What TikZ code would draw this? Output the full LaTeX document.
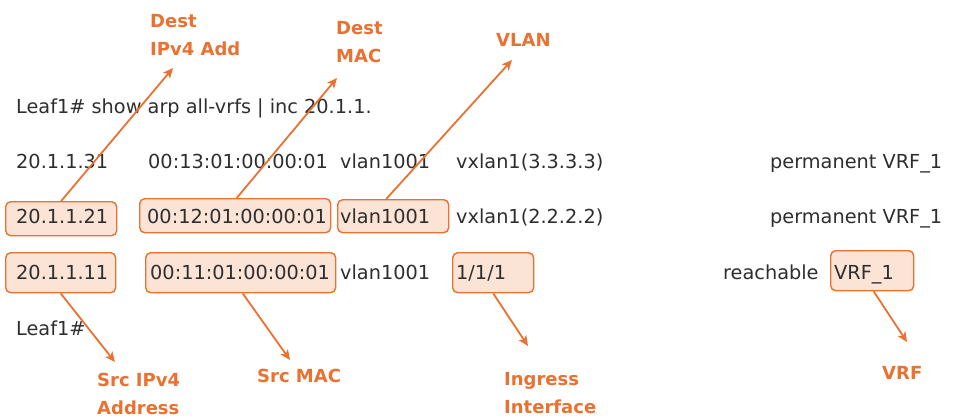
\documentclass[tikz,border=0pt]{standalone}
\usepackage{fontspec}
\setmainfont{DejaVu Sans}
\usetikzlibrary{arrows.meta,calc}
\definecolor{txt}{HTML}{2E2E2E}
\definecolor{org}{HTML}{E97132}
\definecolor{lorg}{HTML}{FBE3D6}
\tikzset{
  cli/.style={anchor=base west, inner sep=0, text=txt, font=\fontsize{19.3}{19.3}\selectfont},
  lbl/.style={anchor=base west, inner sep=0, text=org, font=\fontsize{18}{28}\selectfont\bfseries, align=left},
  hl/.style={draw=org, fill=lorg, rounded corners=5, line width=1.4, inner sep=0},
  arr/.style={draw=org, line width=1.8, -{Stealth[length=10,width=9,inset=2.5]}}
}
\begin{document}
\begin{tikzpicture}[x=1pt,y=-1pt]
\useasboundingbox (0,0) rectangle (955,418);
% highlight boxes
\node[hl, minimum width=111, minimum height=34, anchor=north west] (b21) at (5,201) {};
\node[hl, minimum width=191, minimum height=34, anchor=north west] (m12) at (139,198) {};
\node[hl, minimum width=111, minimum height=33, anchor=north west] (v21) at (337,199) {};
\node[hl, minimum width=110, minimum height=40, anchor=north west] (b11) at (5,252) {};
\node[hl, minimum width=190, minimum height=40, anchor=north west] (m11) at (145,252) {};
\node[hl, minimum width=81, minimum height=40, anchor=north west] (i1) at (452,252) {};
\node[hl, minimum width=83, minimum height=40, anchor=north west] (vrf) at (830,250) {};
% CLI text
\node[cli] (hdr) at (16,113) {Leaf1\# show arp all-vrfs | inc 20.1.1.};
\node[cli] (r1a) at (16,168) {20.1.1.31};
\node[cli] (r1b) at (148,168) {00:13:01:00:00:01};
\node[cli] (r1c) at (340,168) {vlan1001};
\node[cli] (r1d) at (456,168) {vxlan1(3.3.3.3)};
\node[cli] (r1e) at (770,168) {permanent VRF\_1};
\node[cli] (r2a) at (16,223) {20.1.1.21};
\node[cli] (r2b) at (147,223) {00:12:01:00:00:01};
\node[cli] (r2c) at (340,223) {vlan1001};
\node[cli] (r2d) at (456,223) {vxlan1(2.2.2.2)};
\node[cli] (r2e) at (770,223) {permanent VRF\_1};
\node[cli] (r3a) at (16,279) {20.1.1.11};
\node[cli] (r3b) at (150,279) {00:11:01:00:00:01};
\node[cli] (r3c) at (340,279) {vlan1001};
\node[cli] (r3d) at (456,279) {1/1/1};
\node[cli] (r3e) at (723,279) {reachable};
\node[cli] (r3f) at (834,279) {VRF\_1};
\node[cli] (end) at (16,335) {Leaf1\#};
% labels (base = last line)
\node[lbl] (ldip) at (150,55) {Dest\\IPv4 Add};
\node[lbl] (ldmac) at (336,62) {Dest\\MAC};
\node[lbl] (lvlan) at (496,46) {VLAN};
\node[lbl] (lsip) at (97,414) {Src IPv4\\Address};
\node[lbl] (lsmac) at (257,382) {Src MAC};
\node[lbl] (ling) at (504,413) {Ingress\\Interface};
\node[lbl] (lvrf) at (882,379) {VRF};
% arrow ends
\coordinate (t1) at (173,68);
\coordinate (t2) at (337,78);
\coordinate (t3) at (512,60);
\coordinate (t4) at (115,362);
\coordinate (t5) at (290,360);
\coordinate (t6) at (528,346);
\coordinate (t7) at (907,342);
% arrows
\draw[arr] (b21.north) -- (t1);
\draw[arr] ([xshift=1.5]m12.north) -- (t2);
\draw[arr] ([xshift=-7]v21.north) -- (t3);
\draw[arr] (b11.south) -- (t4);
\draw[arr] ([xshift=2]m11.south) -- (t5);
\draw[arr] (i1.south) -- (t6);
\draw[arr] ([xshift=1.5]vrf.south) -- (t7);
\end{tikzpicture}
\end{document}
